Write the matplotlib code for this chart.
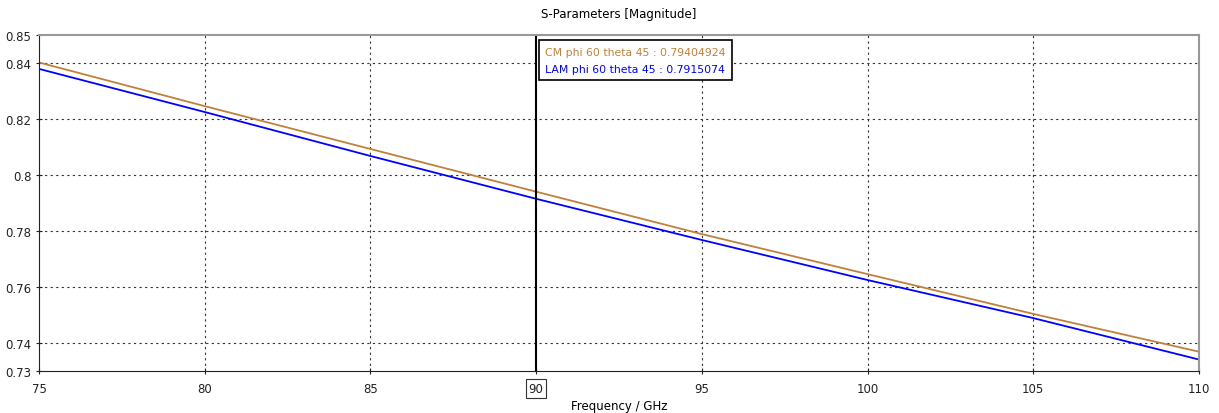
import matplotlib.pyplot as plt

# frequency points (GHz) and magnitudes
freq = [75, 80, 85, 90, 95, 100, 105, 110]
cm_mag = [0.8402, 0.8246, 0.8093, 0.79404924, 0.7789, 0.7646, 0.7504, 0.7369]
lam_mag = [0.8379, 0.8225, 0.8068, 0.7915074, 0.7768, 0.7625, 0.7489, 0.7341]

xticks = [75, 80, 85, 90, 95, 100, 105, 110]
yticks = [0.73, 0.74, 0.76, 0.78, 0.8, 0.82, 0.84, 0.85]
ylabels = ['0.73', '0.74', '0.76', '0.78', '0.8', '0.82', '0.84', '0.85']
cursor = 90

cm_color = '#C0803C'
lam_color = '#0000FF'

plt.rcParams['font.family'] = 'DejaVu Sans'
fig = plt.figure(figsize=(12.19, 4.14), dpi=100)
ax = fig.add_axes([0.032, 0.1014, 0.9516, 0.8116])

ax.plot(freq, cm_mag, color=cm_color, lw=1.3)
ax.plot(freq, lam_mag, color=lam_color, lw=1.3)
ax.axvline(cursor, color='black', lw=1.5)

ax.set_xlim(75, 110)
ax.set_ylim(0.73, 0.85)
ax.set_xticks(xticks)
ax.set_yticks(yticks)
ax.set_yticklabels(ylabels)
ax.tick_params(labelsize=8.5, length=4, direction='inout', colors='#222222')
ax.tick_params(axis='x', pad=6)

# dotted grid only at the inner ticks
for x in xticks[1:-1]:
    if x != cursor:
        ax.axvline(x, color='#333333', lw=0.8, ls=(0, (2, 3)), zorder=0)
for y in yticks[1:-1]:
    ax.axhline(y, color='#333333', lw=0.8, ls=(0, (2, 3)), zorder=0)

for s in ['left', 'bottom']:
    ax.spines[s].set_color('#222222')
for s in ['top', 'right']:
    ax.spines[s].set_color('#999999')
    ax.spines[s].set_linewidth(1.5)

# box around cursor tick label
for lbl in ax.get_xticklabels():
    if lbl.get_text() == str(cursor):
        lbl.set_bbox(dict(facecolor='white', edgecolor='#333333', lw=0.8, pad=2))

ax.set_title('S-Parameters [Magnitude]', fontsize=8.5, pad=13)
ax.set_xlabel('Frequency / GHz', fontsize=8.5, labelpad=3)

# cursor readout box
ax.text(90.28, 0.8458, f'CM phi 60 theta 45 : {cm_mag[3]:.8f}\n', color=cm_color,
        fontsize=7.8, va='top', ha='left', linespacing=1.9,
        bbox=dict(facecolor='white', edgecolor='black', lw=1.2, pad=4.5))
ax.text(90.28, 0.8458, f'\nLAM phi 60 theta 45 : {lam_mag[3]:.7f}', color=lam_color,
        fontsize=7.8, va='top', ha='left', linespacing=1.9)

plt.savefig('out.png', dpi=100)
